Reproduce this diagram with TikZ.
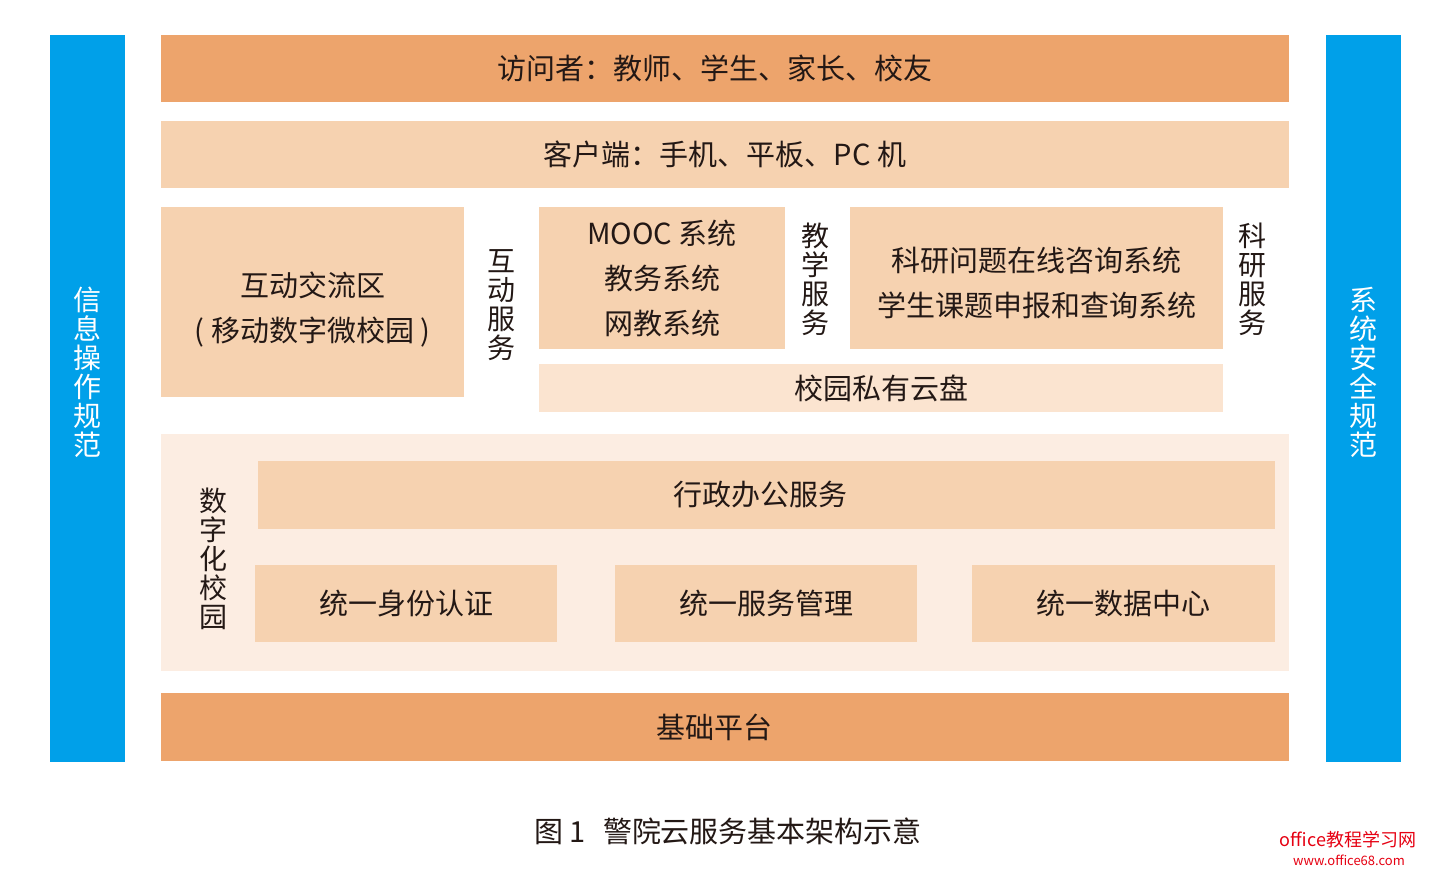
\documentclass[tikz,border=0pt]{standalone}
\usepackage{fontspec}
\setmainfont{Noto Sans CJK SC}
\definecolor{bluebar}{HTML}{00A0E9}
\definecolor{darkor}{HTML}{EDA46C}
\definecolor{lightor}{HTML}{F6D2B0}
\definecolor{cloudor}{HTML}{FBE4D0}
\definecolor{bgor}{HTML}{FCEDE2}
\definecolor{ink}{HTML}{231815}
\definecolor{wmred}{HTML}{E60012}
\begin{document}
\begin{tikzpicture}[x=1pt,y=-1pt,
  box/.style={fill=#1, inner sep=0pt, draw=none, text=ink, align=center,
    font=\fontsize{29}{45}\selectfont},
  btext/.style={inner sep=0pt, text=ink, align=center, font=\fontsize{29}{45}\selectfont},
  vtext/.style={text=ink, align=center, inner sep=0pt, font=\fontsize{28}{29}\selectfont},
  sidebar/.style={fill=bluebar, inner sep=0pt, minimum width=75pt, minimum height=727pt}]
\useasboundingbox (0,0) rectangle (1436,878);
\fill[white] (0,0) rectangle (1436,878);
% side bars
\node[sidebar] (lbar) at (87.5,398.5) {};
\node[sidebar] (rbar) at (1363.5,398.5) {};
\node[vtext, text=white] (ltxt) at (87.5,372) {信\\息\\操\\作\\规\\范};
\node[vtext, text=white] (rtxt) at (1363.5,372) {系\\统\\安\\全\\规\\范};
% top layers
\node[box=darkor, minimum width=1128pt, minimum height=67pt] (visit) at (725,68.5) {\hspace*{-20pt}访问者：教师、学生、家长、校友};
\node[box=lightor, minimum width=1128pt, minimum height=67pt] (client) at (725,154.5) {客户端：手机、平板、PC 机};
% service layer
\node[box=lightor, minimum width=303pt, minimum height=190pt] (interact) at (312.5,302) {};
\node[btext] (interacttxt) at (312.5,310) {互动交流区\\( 移动数字微校园 )};
\node[vtext] (hdfw) at (501,305) {互\\动\\服\\务};
\node[box=lightor, minimum width=246pt, minimum height=142pt] (mooc) at (662,278) {MOOC 系统\\教务系统\\网教系统};
\node[vtext] (jxfw) at (815,279) {教\\学\\服\\务};
\node[box=lightor, minimum width=373pt, minimum height=142pt] (research) at (1036.5,278) {};
\node[btext] (researchtxt) at (1036.5,283) {科研问题在线咨询系统\\学生课题申报和查询系统};
\node[vtext] (kyfw) at (1252,279) {科\\研\\服\\务};
\node[box=cloudor, minimum width=684pt, minimum height=48pt] (cloud) at (881,388) {校园私有云盘};
% digital campus
\node[box=bgor, minimum width=1128pt, minimum height=237pt] (digital) at (725,552.5) {};
\node[vtext] (szxy) at (213,559) {数\\字\\化\\校\\园};
\node[box=lightor, minimum width=1017pt, minimum height=68pt] (admin) at (766.5,495) {\hspace*{-12pt}行政办公服务};
\node[box=lightor, minimum width=302pt, minimum height=77pt] (ident) at (406,603.5) {统一身份认证};
\node[box=lightor, minimum width=302pt, minimum height=77pt] (svc) at (766,603.5) {统一服务管理};
\node[box=lightor, minimum width=303pt, minimum height=77pt] (data) at (1123.5,603.5) {统一数据中心};
% base
\node[box=darkor, minimum width=1128pt, minimum height=68pt] (base) at (725,727) {\hspace*{-22pt}基础平台};
% caption
\node[text=ink, inner sep=0pt, font=\fontsize{29}{30}\selectfont] (cap) at (728,831) {图 1\hspace{0.6em}警院云服务基本架构示意};
% watermark
\node[text=wmred, inner sep=0pt, font=\fontsize{18}{20}\selectfont] (wm1) at (1348,840) {office教程学习网};
\node[text=wmred, inner sep=0pt, font=\fontsize{13}{15}\selectfont] (wm2) at (1349,860) {www.office68.com};
\end{tikzpicture}
\end{document}
